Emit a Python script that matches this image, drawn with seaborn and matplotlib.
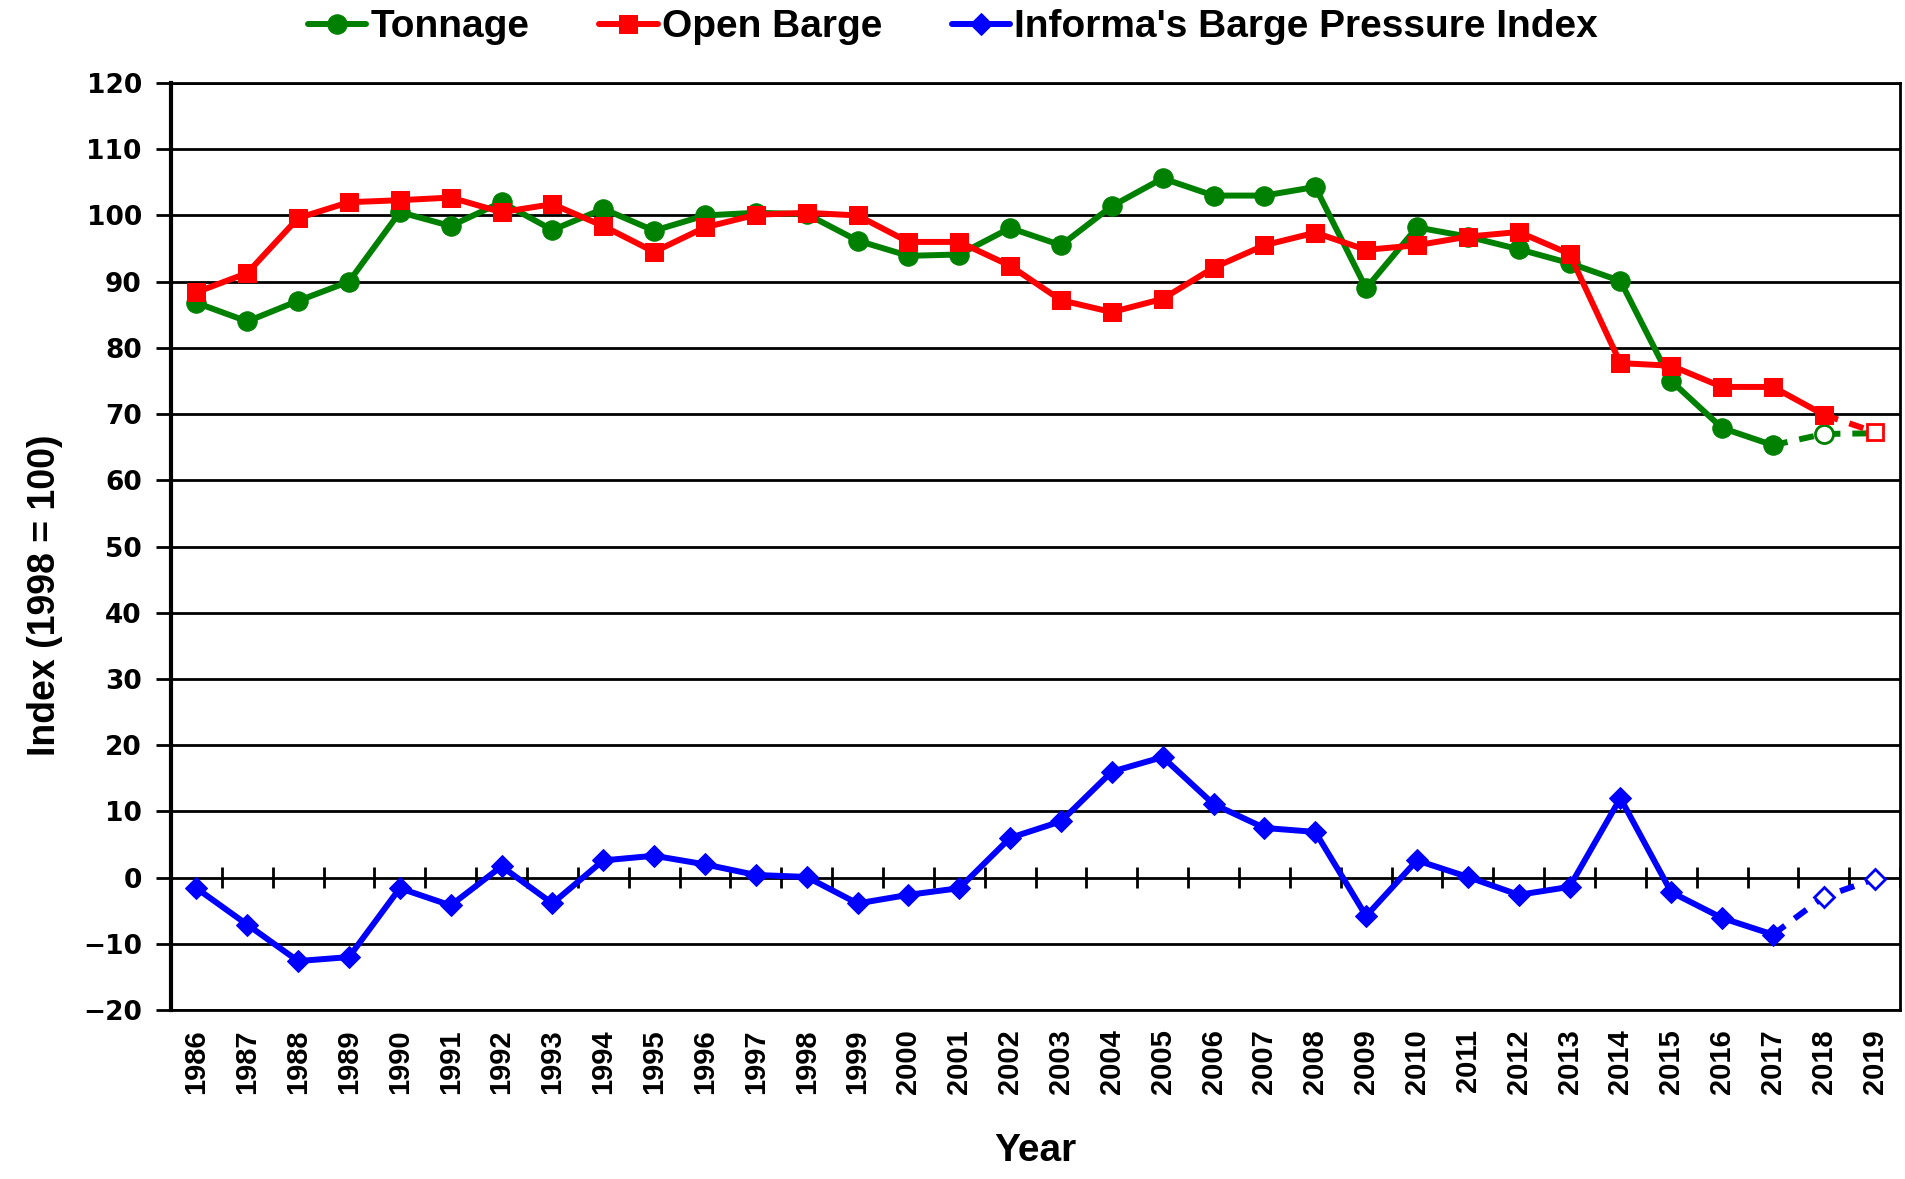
import numpy as np
import pandas as pd
import seaborn as sns
import matplotlib.pyplot as plt

# Chart data
years = list(range(1986, 2020))
tonnage = [86.8, 84.0, 87.1, 90.0, 100.5, 98.4, 102.0, 97.8, 101.0, 97.7,
           100.0, 100.4, 100.2, 96.2, 93.9, 94.1, 98.1, 95.5, 101.4, 105.6,
           103.0, 103.0, 104.3, 89.0, 98.2, 96.8, 94.9, 92.8, 90.1, 75.0,
           67.9, 65.3, 67.0, 67.1]
open_barge = [88.4, 91.3, 99.6, 102.0, 102.3, 102.7, 100.5, 101.7, 98.4, 94.5,
              98.2, 100.1, 100.4, 100.0, 96.0, 96.0, 92.4, 87.2, 85.4, 87.4,
              92.1, 95.5, 97.4, 94.8, 95.5, 96.8, 97.5, 94.2, 77.7, 77.3,
              74.1, 74.1, 69.9, 67.3]
pressure = [-1.6, -7.1, -12.6, -12.0, -1.6, -4.2, 1.7, -3.9, 2.6, 3.3,
            2.0, 0.4, 0.1, -3.9, -2.6, -1.6, 6.0, 8.5, 16.0, 18.2,
            11.1, 7.5, 6.9, -5.8, 2.6, 0.1, -2.6, -1.4, 12.0, -2.2,
            -6.1, -8.6, -2.9, -0.2]

# last year of actual (solid) data for each series, rest is projection
last_actual = {"Tonnage": 2017, "Open Barge": 2018,
               "Informa's Barge Pressure Index": 2017}
colors = {"Tonnage": "#008000", "Open Barge": "#ff0000",
          "Informa's Barge Pressure Index": "#0000ff"}
markers = {"Tonnage": "o", "Open Barge": "s",
           "Informa's Barge Pressure Index": "D"}
msizes = {"Tonnage": 14, "Open Barge": 13, "Informa's Barge Pressure Index": 11}

df = pd.DataFrame({"Year": years, "Tonnage": tonnage, "Open Barge": open_barge,
                   "Informa's Barge Pressure Index": pressure})

sns.set_style("white")
plt.rcParams["font.family"] = ["Liberation Sans", "DejaVu Sans"]
plt.rcParams["text.color"] = "black"
plt.rcParams["axes.labelcolor"] = "black"
plt.rcParams["xtick.color"] = "black"
plt.rcParams["ytick.color"] = "black"

fig = plt.figure(figsize=(19.06, 11.79), dpi=100)
ax = fig.add_axes([0.0897, 0.1433, 0.9072, 0.7863])

handles = []
for name in ["Tonnage", "Open Barge", "Informa's Barge Pressure Index"]:
    cut = last_actual[name]
    solid = df[df["Year"] <= cut]
    proj = df[df["Year"] >= cut]
    sns.lineplot(data=solid, x="Year", y=name, ax=ax, color=colors[name],
                 linewidth=4.3, marker=markers[name], markersize=msizes[name],
                 markeredgecolor=colors[name], label=name, zorder=3)
    handles.append(ax.get_lines()[-1])
    # projected part: dashed, hollow markers
    mk = [i for i in range(1, len(proj))]
    if name == "Tonnage":
        mk = [1]
    sns.lineplot(data=proj, x="Year", y=name, ax=ax, color=colors[name],
                 linewidth=4.3, linestyle=(0, (2.5, 2)), marker=markers[name],
                 markersize=msizes[name] - 1, markerfacecolor="white",
                 markeredgecolor=colors[name], markeredgewidth=2,
                 markevery=mk, zorder=3)

ax.set_xlim(years[0] - 0.5, years[-1] + 0.5)
ax.set_ylim(-20, 120)
ax.set_yticks(np.arange(-20, 121, 10))
ax.set_xticks(years)
ax.set_xticklabels([str(y) for y in years], rotation=90, fontsize=21,
                   fontweight="bold")
ax.tick_params(axis="x", length=0, pad=14)
ax.tick_params(axis="y", length=11, width=2, direction="out", left=True,
               pad=10)
for lab in ax.get_yticklabels():
    lab.set_fontfamily("DejaVu Sans")
    lab.set_fontweight("bold")
    lab.set_fontsize(19)

ax.grid(axis="y", color="black", linewidth=2)
ax.set_axisbelow(True)
for side in ["left", "right", "top", "bottom"]:
    ax.spines[side].set_visible(True)
    ax.spines[side].set_color("black")
    ax.spines[side].set_linewidth(2)
ax.spines["left"].set_linewidth(3)

# category boundary ticks across the zero line
bounds = np.arange(years[0] - 0.5, years[-1] + 1, 1.0)
ax.vlines(bounds, -1.6, 1.6, color="black", linewidth=2, zorder=2)

ax.set_xlabel("Year", fontsize=28, fontweight="bold")
ax.xaxis.label.set_verticalalignment("center")
ax.xaxis.set_label_coords(0.5, -0.152)
ax.set_ylabel("Index (1998 = 100)", fontsize=27, fontweight="bold",
              family=["Liberation Sans Narrow", "Liberation Sans"])
ax.yaxis.set_label_coords(-0.0625, 0.447)

if ax.get_legend() is not None:
    ax.get_legend().remove()
fig.legend(handles=handles, labels=[h.get_label() for h in handles],
           loc="center", bbox_to_anchor=(0.5, 0.977), ncol=3, frameon=False,
           handlelength=1.5, handletextpad=0.1, columnspacing=1.8,
           prop={"family": ["Liberation Sans Narrow", "Liberation Sans"],
                 "weight": "bold", "size": 28})

fig.savefig("out.png", dpi=100)
